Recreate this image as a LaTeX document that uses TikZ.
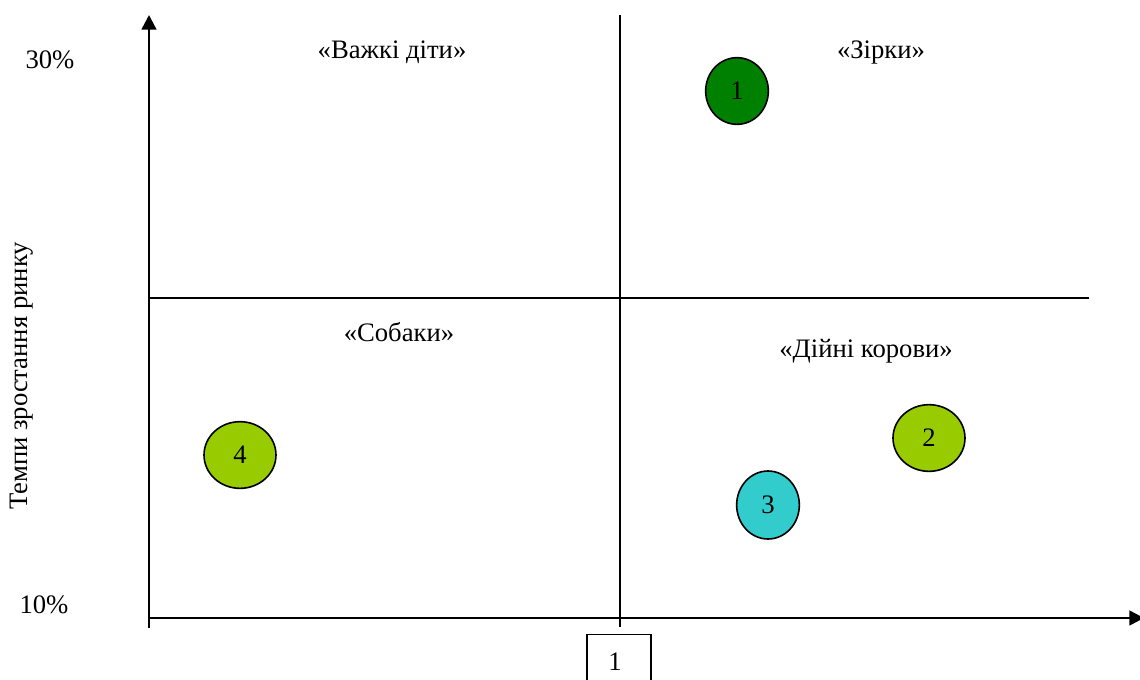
\documentclass[tikz,border=0pt]{standalone}
\usepackage{fontspec}
\setmainfont{Liberation Serif}
\usetikzlibrary{arrows.meta,shapes.geometric}

\definecolor{dkgreen}{RGB}{0,128,0}
\definecolor{lime}{RGB}{153,204,0}
\definecolor{aqua}{RGB}{51,204,204}

\tikzset{
	axis/.style={line width=1.9pt,-{Triangle[width=11pt,length=11pt]}},
	divider/.style={line width=1.1pt},
	firm/.style={ellipse,draw,line width=1.2pt,inner sep=0pt,minimum width=48pt,minimum height=50pt},
	label/.style={inner sep=0pt}
}

\begin{document}
\begin{tikzpicture}[x=0.75pt,y=-0.75pt,font=\fontsize{20}{24}\selectfont]

		\useasboundingbox (0,0) rectangle (1140,679);

		% axes
		\coordinate (o) at (149,618);
		\coordinate (ytop) at (149,15);
		\coordinate (xend) at (1144,618);
		\coordinate (ytick) at (149,628);
		\draw[axis] (ytick) -- (ytop);
		\draw[axis] (o) -- (xend);

		% quadrant lines
		\coordinate (vtop) at (620,15);
		\coordinate (vbot) at (620,627);
		\coordinate (hleft) at (149,298);
		\coordinate (hright) at (1089,298);
		\draw[divider] (vtop) -- (vbot);
		\draw[divider] (hleft) -- (hright);

		% scale marks
		\node[label] (top) at (50,60) {30\%};
		\node[label] (bot) at (44,605) {10\%};
		\node[label,rotate=90] (ylab) at (22,376) {Темпи зростання ринку};
		\node[draw,line width=1.1pt,minimum width=48pt,minimum height=40pt,anchor=north] (xmark) at (619,634) {};
		\node[label] (xval) at (615,662) {1};

		% quadrant names
		\node[label] (kids) at (392,52) {«Важкі діти»};
		\node[label] (stars) at (881,52) {«Зірки»};
		\node[label] (dogs) at (399,332) {«Собаки»};
		\node[label] (cows) at (866,351) {«Дійні корови»};

		% business units
		\node[firm,fill=dkgreen,minimum width=47pt,minimum height=50pt] (f1) at (737,91) {1};
		\node[firm,fill=lime,minimum width=54pt,minimum height=50pt] (f2) at (929,438) {2};
		\node[firm,fill=aqua,minimum width=47pt,minimum height=51pt] (f3) at (768,505) {3};
		\node[firm,fill=lime,minimum width=54pt,minimum height=50pt] (f4) at (240,455) {4};

		\end{tikzpicture}
\end{document}
